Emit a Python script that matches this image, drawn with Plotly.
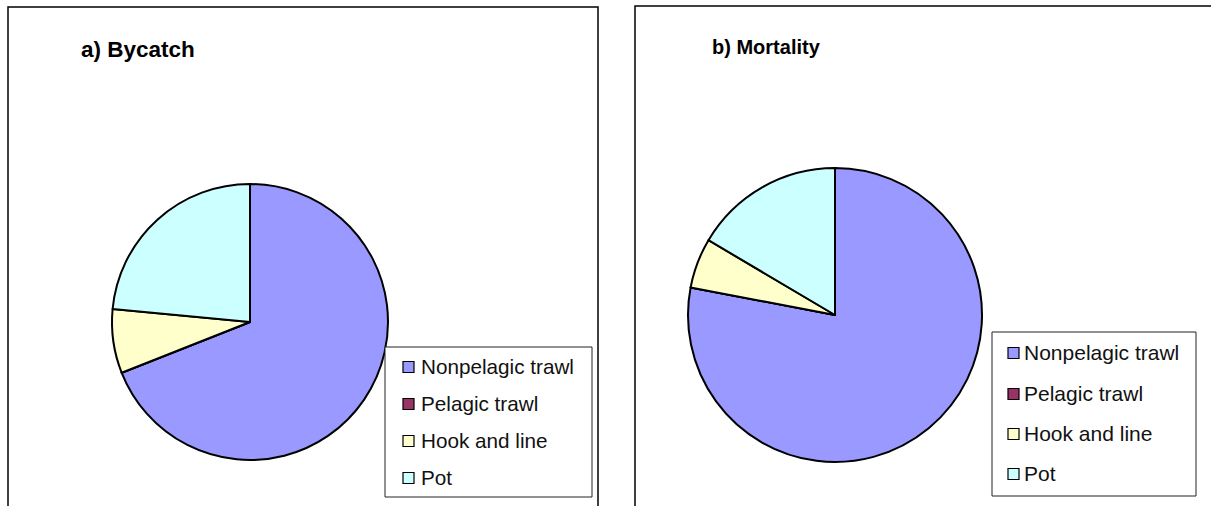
import plotly.graph_objects as go

# Gear types and their shares (%) of bycatch and of mortality
gear_types = ["Nonpelagic trawl", "Pelagic trawl", "Hook and line", "Pot"]
bycatch_pct = [69.0, 0.0, 7.5, 23.5]
mortality_pct = [78.0, 0.0, 5.5, 16.5]
panel_titles = ["a) Bycatch", "b) Mortality"]

gear_colors = ["#9999FF", "#993366", "#FFFFCC", "#CCFFFF"]

W, H = 1211, 506


def px_x(x):
    return x / W


def px_y(y):
    return 1 - y / H


def pie_domain(cx, cy, r):
    return dict(x=[px_x(cx - r), px_x(cx + r)], y=[px_y(cy + r), px_y(cy - r)])


fig = go.Figure()

panels = [
    dict(values=bycatch_pct, title=panel_titles[0], centre=(250, 322), r=138,
         frame=(8, 7, 598, 540), title_xy=(80, 49), title_size=22.5,
         legend_box=(385, 347, 592, 497), swatch_x=403, text_x=420,
         rows=[367, 404, 441, 478], legend_size=20.7),
    dict(values=mortality_pct, title=panel_titles[1], centre=(835, 315), r=147,
         frame=(635, 6, 1240, 540), title_xy=(711, 47), title_size=20,
         legend_box=(992, 332, 1196, 496), swatch_x=1008, text_x=1023,
         rows=[353, 394, 434, 474], legend_size=21),
]

shapes = []
annotations = []

for p in panels:
    cx, cy = p["centre"]
    fig.add_trace(go.Pie(
        labels=gear_types,
        values=p["values"],
        marker=dict(colors=gear_colors, line=dict(color="black", width=2)),
        sort=False,
        direction="clockwise",
        rotation=0,
        textinfo="none",
        showlegend=False,
        domain=pie_domain(cx, cy, p["r"]),
    ))

    # panel frame
    x0, y0, x1, y1 = p["frame"]
    shapes.append(dict(type="rect", xref="paper", yref="paper",
                       x0=px_x(x0), x1=px_x(x1), y0=px_y(y1), y1=px_y(y0),
                       line=dict(color="black", width=1.5), fillcolor="rgba(0,0,0,0)"))

    # panel title
    tx, ty = p["title_xy"]
    annotations.append(dict(text="<b>%s</b>" % p["title"], xref="paper", yref="paper",
                            x=px_x(tx), y=px_y(ty), xanchor="left", yanchor="middle",
                            showarrow=False, borderpad=0,
                            font=dict(family="Liberation Sans, Arial", size=p["title_size"],
                                      color="black")))

    # legend box
    lx0, ly0, lx1, ly1 = p["legend_box"]
    shapes.append(dict(type="rect", xref="paper", yref="paper",
                       x0=px_x(lx0), x1=px_x(lx1), y0=px_y(ly1), y1=px_y(ly0),
                       line=dict(color="#222222", width=1), fillcolor="white"))

    for name, color, ry in zip(gear_types, gear_colors, p["rows"]):
        sx = p["swatch_x"]
        shapes.append(dict(type="rect", xref="paper", yref="paper",
                           x0=px_x(sx), x1=px_x(sx + 11), y0=px_y(ry + 5.5), y1=px_y(ry - 5.5),
                           line=dict(color="black", width=1.2), fillcolor=color))
        annotations.append(dict(text=name, xref="paper", yref="paper",
                                x=px_x(p["text_x"]), y=px_y(ry - 1), xanchor="left",
                                yanchor="middle", showarrow=False, borderpad=0,
                                font=dict(family="Liberation Sans, Arial", size=p["legend_size"],
                                          color="#111111")))

fig.update_layout(
    width=W, height=H, autosize=False,
    margin=dict(l=0, r=0, t=0, b=0),
    paper_bgcolor="white", plot_bgcolor="white",
    shapes=shapes, annotations=annotations,
    showlegend=False,
)

fig.write_html("out.html")
